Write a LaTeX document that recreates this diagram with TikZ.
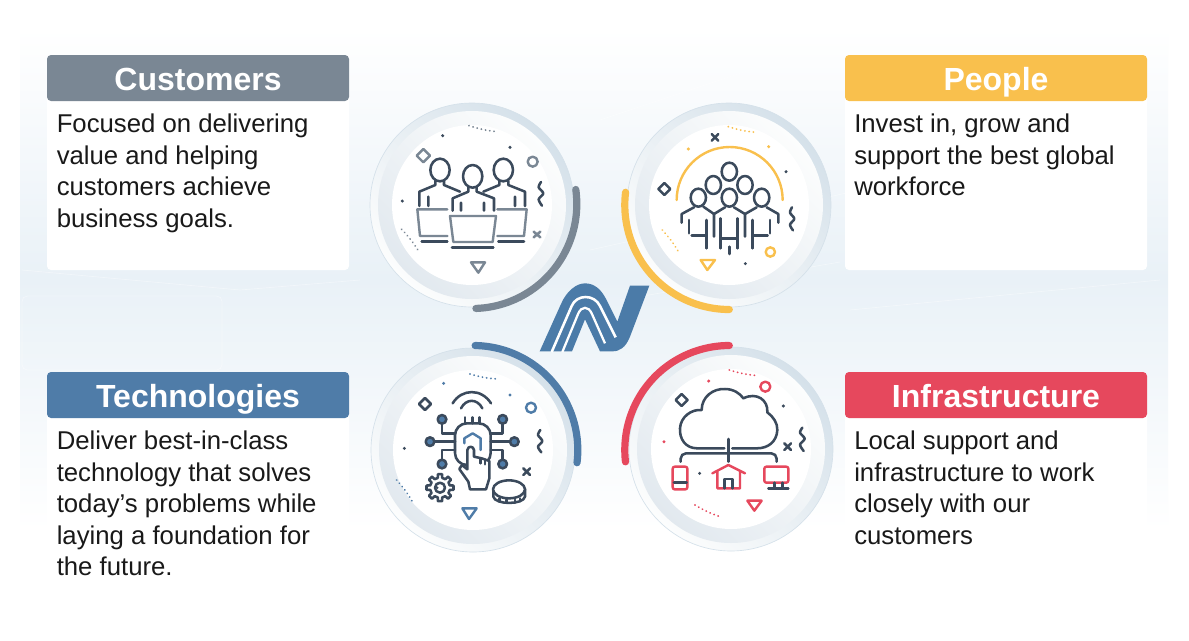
\documentclass[tikz,border=0pt]{standalone}
\usepackage{fontspec}
\setmainfont{Liberation Sans}
\definecolor{custgrey}{HTML}{7A8794}
\definecolor{peopleyel}{HTML}{F9C04D}
\definecolor{techblue}{HTML}{4F7CA8}
\definecolor{infrared}{HTML}{E6485D}
\definecolor{inkline}{HTML}{3B4A5C}
\definecolor{logoblue}{HTML}{4B7BA8}
\definecolor{hazeblue}{HTML}{E9F1F7}
\definecolor{rimdark}{HTML}{D5E1EA}
\definecolor{rimlight}{HTML}{FCFDFD}
\definecolor{rimshade}{HTML}{E2E9EF}
\begin{document}
\begin{tikzpicture}[x=0.75pt,y=-0.75pt]
  \tikzset{head/.style = {rectangle,rounded corners=3pt,minimum width=226.5pt,minimum height=34.5pt,inner sep=0pt,text height=18pt,text depth=0pt,text=white,font=\fontsize{24}{28}\selectfont\bfseries}}
  \tikzset{body/.style = {anchor=north west,inner sep=0pt,align=left,font=\fontsize{19.3}{23.6}\selectfont,text=black!90}}
  \tikzset{panel/.style = {fill=white,rounded corners=3pt}}
  \tikzset{band/.style = {line width=5.4pt,line cap=round}}
  \tikzset{ink/.style = {inkline,line width=1.9pt,line cap=round,line join=round}}
  \tikzset{tone/.style = {line width=1.8pt,line cap=round,line join=round}}
  \tikzset{dots/.style = {line width=1.5pt,line cap=round,dash pattern=on 0.01pt off 3.2pt}}
  \tikzset{zoomed/.style = {x=0.25pt,y=-0.25pt}}
  \useasboundingbox (0,0) rectangle (1189,640);

  % backdrop
  \fill[white] (0,0) rectangle (1189,640);
  \shade[top color=white,bottom color=white,middle color=hazeblue] (20,28) rectangle (1168,530);
  \foreach \xa/\ya/\xb/\yb in {22/270/240/290, 240/290/360/280, 590/250/860/190, 620/300/840/262, 600/120/840/40, 850/310/1160/280}
    \draw[white,line width=0.5pt,opacity=0.4] (\xa,\ya) -- (\xb,\yb);
  \draw[white,line width=0.5pt,opacity=0.4,rounded corners=4pt] (22,296) rectangle (222,370);

  % white panels
  \fill[panel] (47,60) rectangle (349,270);
  \fill[panel] (845,60) rectangle (1147,270);
  \fill[panel] (47,378) rectangle (349,585);
  \fill[panel] (845,378) rectangle (1147,585);

  \node[head,fill=custgrey] (customers) at (198,78) {Customers};
  \node[head,fill=peopleyel] (people) at (996,78) {People};
  \node[head,fill=techblue] (technologies) at (198,395) {Technologies};
  \node[head,fill=infrared] (infrastructure) at (996,395) {Infrastructure};

  \node[body] (customerstext) at (56.5,114) {Focused on delivering\\value and helping\\customers achieve\\business goals.};
  \node[body] (peopletext) at (854,114) {Invest in, grow and\\support the best global\\workforce};
  \node[body] (techtext) at (56.5,431) {Deliver best-in-class\\technology that solves\\today’s problems while\\laying a foundation for\\the future.};
  \node[body] (infratext) at (854,431) {Local support and\\infrastructure to work\\closely with our\\customers};

  % round dials
  \foreach \cx/\cy in {472/205, 729/205, 473/450, 731/449} {
    \shade[left color=rimdark,right color=rimlight,shading angle=-45] (\cx,\cy) circle (102);
    \draw[rimdark,line width=0.5pt] (\cx,\cy) circle (102);
    \shade[left color=rimlight,right color=rimshade,shading angle=-45] (\cx,\cy) circle (94);
    \fill[white] (\cx,\cy) circle (80);
  }
  \foreach \cx/\cy/\st/\en/\col in {472.3/204/-8/88/custgrey, 729.3/205/90/187/peopleyel, 473.3/450/-89/7/techblue, 729.3/450/173.5/270/infrared}
    \draw[band,draw=\col] ([shift={(\cx,\cy)}]\st:104.5) arc[start angle=\st,end angle=\en,radius=104.5];

  % customers icon
  \begin{scope}[shift={(360,90)},zoomed]
    \draw[tone,custgrey] (190,177) -- (210,197) -- (190,217) -- (170,197) -- cycle;
    \draw[tone,custgrey] (518,215) circle (15);
    \draw[tone,custgrey] (333,517) -- (375,517) -- (355,548) -- cycle;
    \draw[ink] plot[smooth] coordinates {(543,276) (536,292) (550,310) (536,328) (546,347)};
    \draw[ink,custgrey] (521,425) -- (541,442) (541,425) -- (521,442);
    \fill[inkline] (248,137) circle (5) (450,172) circle (5) (127,333) circle (5);
    \draw[dots,custgrey] (327,107) to[bend right=6] (412,125);
    \draw[dots,custgrey] (125,418) to[bend left=6] (178,487);
    \foreach \hx/\hy in {240/240, 430/240, 338/259}
      \draw[ink] (\hx,\hy) ellipse (29 and 34);
    \draw[ink] (178,348) -- (178,305) -- (226,285) -- (226,272) (252,272) -- (252,285) -- (300,305) (205,320) -- (205,348);
    \draw[ink] (495,348) -- (495,305) -- (445,285) -- (445,272) (418,272) -- (418,285) -- (370,305) (465,320) -- (465,348);
    \draw[ink] (278,362) -- (278,325) -- (325,305) -- (325,291) (350,291) -- (350,305) -- (402,325) -- (402,362) (303,338) -- (303,362) (372,338) -- (372,362);
    \draw[tone,custgrey] (262,358) -- (172,358) -- (180,438) -- (262,438);
    \draw[tone,custgrey] (412,358) -- (500,358) -- (492,438) -- (412,438);
    \draw[tone,custgrey] (270,378) -- (408,378) -- (398,456) -- (280,456) -- cycle;
    \draw[ink] (185,455) -- (262,455) (415,455) -- (492,455) (276,473) -- (400,473);
  \end{scope}

  % people icon
  \begin{scope}[shift={(610,90)},zoomed]
    \draw[tone,peopleyel] (200,330) arc[start angle=180,end angle=360,radius=159];
    \draw[ink] (163,279) -- (181,297) -- (163,315) -- (145,297) -- cycle;
    \draw[tone,peopleyel] (481,486) circle (14);
    \draw[tone,peopleyel] (272,510) -- (315,510) -- (292,540) -- cycle;
    \draw[ink] plot[smooth] coordinates {(546,352) (540,368) (553,386) (540,404) (549,421)};
    \draw[ink] (305,132) -- (325,152) (325,132) -- (305,152);
    \fill[peopleyel] (235,177) circle (5) (476,170) circle (5);
    \fill[inkline] (528,245) circle (5) (406,521) circle (5);
    \draw[dots,peopleyel] (355,110) to[bend right=6] (438,127);
    \draw[dots,peopleyel] (157,420) to[bend left=6] (207,488);
    \foreach \hx/\hy in {358/245, 310/285, 405/285, 265/323, 358/323, 455/323}
      \draw[ink] (\hx,\hy) ellipse (23 and 27);
    \draw[ink] (215,398) -- (215,372) -- (252,352) (280,350) -- (312,372) -- (312,440);
    \draw[ink] (312,372) -- (345,352) (372,352) -- (405,372) -- (405,440);
    \draw[ink] (405,372) -- (440,352) (470,352) -- (505,372) -- (505,398);
    \draw[ink] (237,390) -- (237,430) (245,437) -- (290,437) (290,390) -- (290,475);
    \draw[ink] (332,385) -- (332,475) (382,385) -- (382,475) (332,445) -- (382,445) (358,470) -- (358,492);
    \draw[ink] (428,390) -- (428,475) (428,437) -- (473,437) (480,390) -- (480,430);
  \end{scope}

  % technologies icon
  \begin{scope}[shift={(360,335)},zoomed]
    \draw[ink] (195,189) -- (213,207) -- (195,225) -- (177,207) -- cycle;
    \draw[tone,techblue] (513,218) circle (15);
    \draw[tone,techblue] (307,520) -- (350,520) -- (327,552) -- cycle;
    \draw[ink] plot[smooth] coordinates {(541,285) (534,300) (547,318) (534,335) (544,352)};
    \draw[ink] (490,400) -- (510,420) (510,400) -- (490,420);
    \fill[techblue] (251,145) circle (5) (450,180) circle (5);
    \fill[inkline] (133,340) circle (5);
    \draw[dots,techblue] (330,117) to[bend right=6] (412,132);
    \draw[dots,techblue] (110,435) to[bend left=6] (160,505);
    \draw[ink] (278,205) .. controls (305,160) and (365,160) .. (393,205);
    \draw[ink] (303,220) .. controls (318,190) and (352,190) .. (367,220);
    \draw[ink] (315,247) -- (315,265) (337,247) -- (337,265) (358,247) -- (358,265);
    \draw[ink,rounded corners=9pt] (338,390) -- (285,390) -- (285,265) -- (392,265) -- (392,390) -- (345,390);
    \draw[ink] (246,266) -- (246,295) -- (285,295) (428,266) -- (428,295) -- (392,295);
    \draw[ink] (223,320) -- (285,320) (450,320) -- (392,320);
    \draw[ink] (246,374) -- (246,345) -- (285,345) (428,374) -- (428,345) -- (392,345);
    \foreach \px/\py in {246/253, 428/253, 210/320, 463/320, 246/387, 428/387}
      \draw[ink,fill=techblue] (\px,\py) circle (13);
    \draw[tone,techblue] (313,325) -- (313,310) -- (338,295) -- (362,310) -- (362,345);
    \draw[ink,fill=white] (330,463) -- (325,440) -- (298,402) -- (306,390) -- (322,403) -- (322,345) .. controls (324,332) and (340,332) .. (342,345) -- (342,365) -- (365,370) -- (388,378) -- (388,430) -- (378,463) -- cycle;
    \draw[ink] (362,370) -- (362,385) (375,374) -- (375,388);
    \begin{scope}[shift={(240,458)}]
      \foreach \a in {0,45,...,315}
        \draw[ink] (\a-13:30) -- (\a-9:41) -- (\a+9:41) -- (\a+13:30) arc[start angle=\a+13,end angle=\a+32,radius=30];
      \draw[ink] (0,0) circle (15);
      \fill[inkline] (-8,0) circle (4);
    \end{scope}
    \draw[ink,fill=white] (400,467) -- (400,485) .. controls (405,510) and (490,510) .. (495,485) -- (495,462);
    \draw[ink,fill=white] (447,463) ellipse (48 and 27);
    \draw[ink] (418,490) -- (418,500) (440,494) -- (440,503) (465,494) -- (465,503) (480,490) -- (480,499);
  \end{scope}

  % infrastructure icon
  \begin{scope}[shift={(610,335)},zoomed]
    \draw[ink] (215,177) -- (233,195) -- (215,213) -- (197,195) -- cycle;
    \draw[tone,infrared] (466,155) circle (15);
    \draw[tone,infrared] (412,497) -- (455,497) -- (433,527) -- cycle;
    \draw[ink] plot[smooth] coordinates {(577,278) (570,293) (584,311) (570,329) (581,348)};
    \draw[ink] (523,325) -- (543,345) (543,325) -- (523,345);
    \fill[infrared] (296,138) circle (5) (162,320) circle (5);
    \fill[inkline] (520,213) circle (5) (269,415) circle (5);
    \draw[dots,infrared] (358,105) to[bend right=6] (445,122);
    \draw[dots,infrared] (255,510) to[bend right=6] (333,546);
    \draw[ink] (343,340) -- (262,340) .. controls (225,340) and (208,310) .. (210,280) .. controls (212,245) and (245,222) .. (275,225) .. controls (275,185) and (310,160) .. (345,162) .. controls (370,162) and (390,175) .. (400,190) .. controls (440,170) and (475,195) .. (472,232) .. controls (490,245) and (503,265) .. (502,285) .. controls (500,320) and (475,340) .. (440,340) -- (367,340);
    \draw[ink] (355,312) -- (355,380);
    \draw[ink,rounded corners=4pt] (212,380) -- (212,355) -- (500,355) -- (500,380);
    \draw[tone,infrared,rounded corners=1.5pt] (188,395) rectangle (232,463);
    \draw[ink] (192,443) -- (230,443);
    \draw[tone,infrared] (307,415) -- (355,390) -- (405,415) (322,408) -- (322,460) -- (390,460) -- (390,408);
    \draw[ink] (343,460) -- (343,432) -- (367,432) -- (367,460);
    \draw[tone,infrared,rounded corners=1.5pt] (463,395) rectangle (535,443);
    \draw[ink] (493,443) -- (493,460) (517,443) -- (517,460) (475,461) -- (535,461);
  \end{scope}

  % centre logo
  \begin{scope}[shift={(535,280)},zoomed]
    \fill[logoblue] (14,214) -- (78,72) .. controls (95,32) and (125,10) .. (150,10) .. controls (178,10) and (198,28) .. (212,55) -- (247,125) -- (285,17) -- (343,17) -- (285,170) .. controls (272,202) and (255,214) .. (232,214) -- (195,214) -- (150,118) -- (111,214) -- cycle;
    \draw[white,line width=1.9pt] (50,216) -- (110,78) .. controls (125,42) and (178,42) .. (195,78) -- (242,172);
    \draw[white,line width=1.7pt] (82,216) -- (130,100) .. controls (140,78) and (160,78) .. (170,100) -- (210,190);
  \end{scope}
\end{tikzpicture}
\end{document}
